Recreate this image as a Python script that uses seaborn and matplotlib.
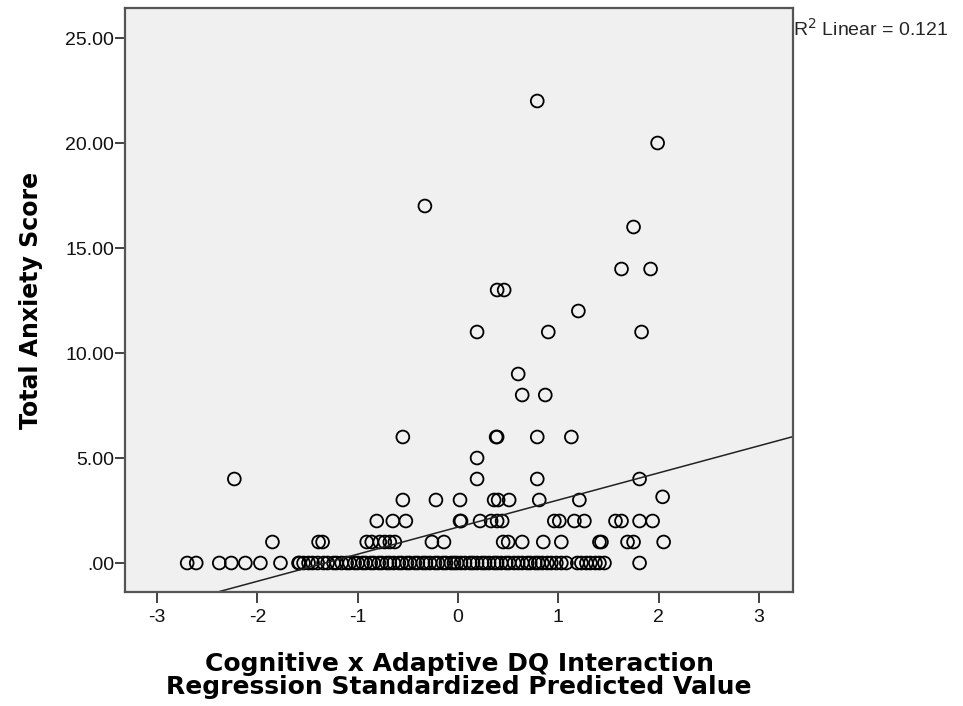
import numpy as np
import pandas as pd
import seaborn as sns
import matplotlib
matplotlib.use('Agg')
import matplotlib.pyplot as plt
from matplotlib.ticker import FuncFormatter

# Points, grouped by anxiety score
x_zero = [-2.70, -2.61, -2.38, -2.26, -2.12, -1.97, -1.77, -1.59, -1.58, -1.54, -1.49, -1.45,
          -1.40, -1.34, -1.30, -1.24, -1.21, -1.16, -1.11, -1.08, -1.03, -1.00, -0.95, -0.92,
          -0.87, -0.84, -0.79, -0.76, -0.71, -0.68, -0.64, -0.59, -0.56, -0.51, -0.48, -0.43,
          -0.40, -0.35, -0.32, -0.28, -0.23, -0.20, -0.15, -0.12, -0.07, -0.04, -0.01, 0.03,
          0.07, 0.12, 0.15, 0.19, 0.24, 0.27, 0.31, 0.36, 0.39, 0.43, 0.48, 0.51, 0.56,
          0.60, 0.64, 0.69, 0.72, 0.77, 0.80, 0.84, 0.89, 0.93, 0.98, 1.03, 1.08,
          1.19, 1.23, 1.28, 1.32, 1.37, 1.41, 1.46, 1.81]
x_one = [-1.85, -1.39, -1.35, -0.91, -0.86, -0.78, -0.73, -0.68, -0.63, -0.26, -0.14,
         0.45, 0.50, 0.64, 0.85, 1.03, 1.41, 1.43, 1.69, 1.75, 2.05]
x_two = [-0.81, -0.65, -0.52, 0.02, 0.03, 0.22, 0.33, 0.39, 0.44, 0.96, 1.01, 1.16, 1.26,
         1.57, 1.63, 1.81, 1.94]
x_three = [-0.55, -0.22, 0.02, 0.36, 0.40, 0.51, 0.81, 1.21]
x_high = [2.04, -2.23, 0.19, 0.79, 1.81, 0.19, -0.55, 0.38, 0.39, 0.79, 1.13, 0.60, 0.64, 0.87,
          0.19, 0.90, 1.83, 1.20, 0.39, 0.46, 1.63, 1.92, 1.75, -0.33, 1.99, 0.79]
y_high = [3.15, 4, 4, 4, 4, 5, 6, 6, 6, 6, 6, 9, 8, 8,
          11, 11, 11, 12, 13, 13, 14, 14, 16, 17, 20, 22]

# Fit line as shown in the chart
line_intercept = 1.71
line_slope = 1.29
r2_text = 'R$^2$ Linear = 0.121'

x_label = 'Cognitive x Adaptive DQ Interaction\nRegression Standardized Predicted Value'
y_label = 'Total Anxiety Score'
x_ticks = [-3, -2, -1, 0, 1, 2, 3]
y_ticks = [0, 5, 10, 15, 20, 25]

df = pd.DataFrame({
    'x': x_zero + x_one + x_two + x_three + x_high,
    'y': [0] * len(x_zero) + [1] * len(x_one) + [2] * len(x_two) + [3] * len(x_three) + y_high,
})

sns.set_style('white')
plt.rcParams['font.family'] = ['Liberation Sans', 'DejaVu Sans']
plt.rcParams['axes.unicode_minus'] = False

fig = plt.figure(figsize=(9.63, 7.06), dpi=100)
ax = fig.add_axes([0.1298, 0.1615, 0.6937, 0.8272])
ax.set_facecolor('#f0f0f0')

sns.scatterplot(data=df, x='x', y='y', ax=ax, s=85, facecolors='none',
                edgecolor='black', linewidth=1.3, marker='o', legend=False)
ax.axline((0, line_intercept), slope=line_slope, color='#222222', linewidth=1.1)

ax.set_xlim(-3.32, 3.34)
ax.set_ylim(-1.38, 26.43)
ax.set_xticks(x_ticks)
ax.set_yticks(y_ticks)
ax.yaxis.set_major_formatter(FuncFormatter(lambda v, p: '.00' if v == 0 else '%.2f' % v))
ax.tick_params(axis='both', bottom=True, left=True, direction='out', width=1.3,
               color='#333333', labelsize=14, labelcolor='#111111')
ax.tick_params(axis='x', length=8, pad=4)
ax.tick_params(axis='y', length=7, pad=1)

for sp in ax.spines.values():
    sp.set_color('#555555')
    sp.set_linewidth(1.6)

ax.set_xlabel(x_label, fontsize=18, fontweight='bold', family='DejaVu Sans',
              labelpad=19, linespacing=0.95, color='black')
ax.set_ylabel(y_label, fontsize=17, fontweight='bold', family='DejaVu Sans',
              labelpad=16, color='black')

ax.text(1.0, 0.965, r2_text, transform=ax.transAxes, fontsize=14, ha='left', va='center')

fig.savefig('out.png', dpi=100)
